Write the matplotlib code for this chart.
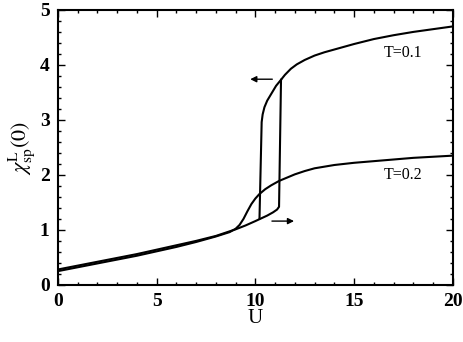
import matplotlib
matplotlib.use("Agg")
import matplotlib.pyplot as plt
from matplotlib.ticker import MultipleLocator

# T=0.1 forward (lower branch, jump up, upper branch)
u1_fwd = [0, 1, 2, 3, 4, 5, 6, 7, 8, 9, 9.5, 10, 10.3, 10.6, 10.9, 11.1, 11.2, 11.3, 11.5, 11.8, 12.1, 12.5, 13, 13.5, 14, 15, 16, 17, 18, 19, 20]
c1_fwd = [0.28, 0.35, 0.42, 0.49, 0.56, 0.64, 0.72, 0.80, 0.89, 1.01, 1.08, 1.16, 1.21, 1.26, 1.32, 1.37, 1.42, 3.73, 3.82, 3.93, 4.01, 4.09, 4.17, 4.23, 4.28, 4.38, 4.47, 4.54, 4.60, 4.65, 4.70]
# T=0.1 backward (upper branch down, jump down)
u1_bwd = [11.3, 11.05, 10.8, 10.6, 10.46, 10.37, 10.32, 10.21]
c1_bwd = [3.73, 3.62, 3.47, 3.35, 3.23, 3.10, 2.96, 1.21]
# T=0.2
u2 = [0, 1, 2, 3, 4, 5, 6, 7, 8, 8.7, 9, 9.2, 9.4, 9.6, 9.8, 10.0, 10.2, 10.5, 10.8, 11.2, 11.6, 12, 12.5, 13, 13.5, 14, 15, 16, 17, 18, 19, 20]
c2 = [0.25, 0.32, 0.39, 0.46, 0.53, 0.61, 0.69, 0.78, 0.88, 0.96, 1.02, 1.09, 1.20, 1.34, 1.47, 1.57, 1.65, 1.74, 1.81, 1.89, 1.95, 2.01, 2.07, 2.12, 2.15, 2.18, 2.22, 2.25, 2.28, 2.31, 2.33, 2.35]

labels = ["T=0.1", "T=0.2"]

plt.rcParams['font.family'] = ['Liberation Serif', 'DejaVu Serif']
plt.rcParams['mathtext.fontset'] = 'stix'

fig = plt.figure(figsize=(4.63, 3.42), dpi=100)
ax = fig.add_axes([0.125, 0.167, 0.853, 0.804])

lw = 1.5
ax.plot(u1_fwd, c1_fwd, color='black', lw=lw)
ax.plot(u1_bwd, c1_bwd, color='black', lw=lw)
ax.plot(u2, c2, color='black', lw=lw)

ax.annotate('', xy=(9.6, 3.74), xytext=(11.0, 3.74),
            arrowprops=dict(arrowstyle='-|>', color='black', lw=1.0, mutation_scale=9))
ax.annotate('', xy=(12.1, 1.16), xytext=(10.7, 1.16),
            arrowprops=dict(arrowstyle='-|>', color='black', lw=1.0, mutation_scale=9))

ax.text(16.5, 4.22, labels[0], fontsize=11.5, va='center', ha='left')
ax.text(16.5, 2.0, labels[1], fontsize=11.5, va='center', ha='left')

ax.set_xlim(0, 20)
ax.set_ylim(0, 5)
ax.xaxis.set_major_locator(MultipleLocator(5))
ax.xaxis.set_minor_locator(MultipleLocator(1))
ax.yaxis.set_major_locator(MultipleLocator(1))
ax.yaxis.set_minor_locator(MultipleLocator(0.2))
ax.tick_params(which='both', direction='in', top=True, right=True, width=1.0)
ax.tick_params(which='major', length=5, labelsize=14, pad=6)
ax.tick_params(which='minor', length=2.5)
for lab in ax.get_xticklabels() + ax.get_yticklabels():
    lab.set_fontweight('bold')
for s in ax.spines.values():
    s.set_linewidth(1.5)

ax.set_xlabel('U', fontsize=15, labelpad=-1)
ax.set_ylabel(r'$\chi^{\rm L}_{\rm sp}(0)$', fontsize=16, labelpad=2)

fig.savefig('out.png', dpi=100)
